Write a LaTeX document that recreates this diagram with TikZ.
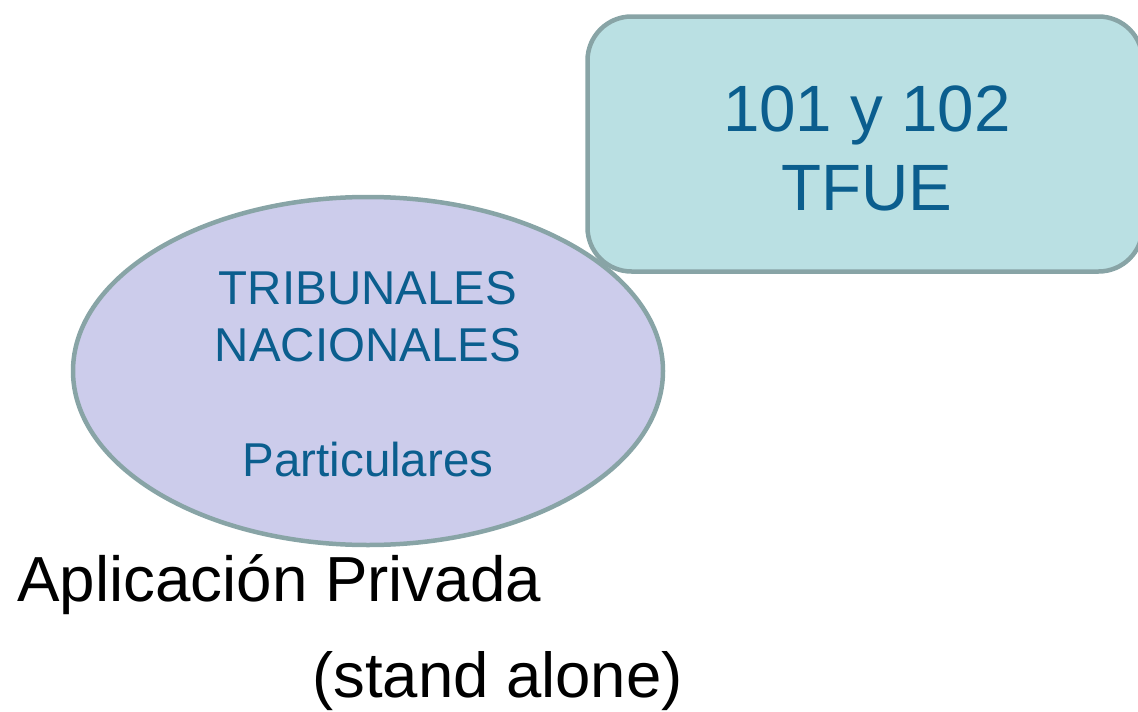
\documentclass[tikz,border=0pt]{standalone}
\usepackage{fontspec}
\setmainfont{Liberation Sans}
\usetikzlibrary{shapes.geometric}
\definecolor{rectfill}{HTML}{BAE0E3}
\definecolor{ellfill}{HTML}{CCCCEB}
\definecolor{edgecol}{HTML}{88A4A6}
\definecolor{txtblue}{HTML}{0B5E8E}
\tikzset{
  shapeedge/.style={draw=edgecol, line width=4.5pt},
  bluetext/.style={text=txtblue, inner sep=0pt, anchor=base},
  blacktext/.style={text=black, inner sep=0pt, anchor=base west},
}
\begin{document}
\begin{tikzpicture}[x=1pt,y=-1pt]
\useasboundingbox (0,0) rectangle (1138,712);
% ellipse
\node[shapeedge, fill=ellfill, ellipse, inner sep=0pt,
      minimum width=590pt, minimum height=348pt] (trib) at (368,371) {};
% rounded rectangle
\node[shapeedge, fill=rectfill, rectangle, rounded corners=44pt, inner sep=0pt,
      minimum width=555pt, minimum height=255pt] (tfue) at (865,144) {};
% texts in the rectangle
\node[bluetext, font=\fontsize{65.5}{78}\selectfont] (t1) at (867,131) {101 y 102};
\node[bluetext, font=\fontsize{65.5}{78}\selectfont] (t2) at (867,210) {TFUE};
% texts in the ellipse
\node[bluetext, font=\fontsize{47.5}{57}\selectfont] (e1) at (368,304) {TRIBUNALES};
\node[bluetext, font=\fontsize{47.5}{57}\selectfont] (e2) at (368,361) {NACIONALES};
\node[bluetext, font=\fontsize{47.5}{57}\selectfont] (e3) at (368,476) {Particulares};
% texts below
\node[blacktext, font=\fontsize{63.7}{76}\selectfont] (a1) at (17,601) {Aplicación Privada};
\node[blacktext, font=\fontsize{63.5}{76}\selectfont] (a2) at (312,697) {(stand alone)};
\end{tikzpicture}
\end{document}
